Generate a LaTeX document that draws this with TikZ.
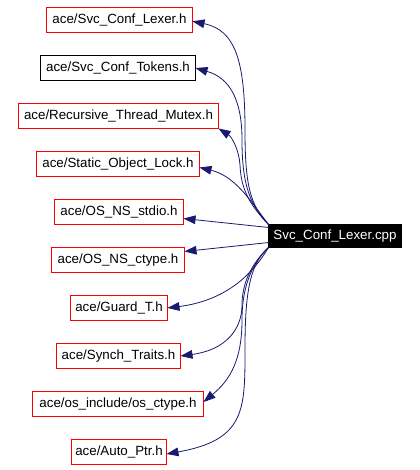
\documentclass[tikz,border=0pt]{standalone}
\usepackage{fontspec}
\setmainfont{Liberation Sans}
\usetikzlibrary{arrows.meta}
\definecolor{edgeblue}{HTML}{191970}
\definecolor{boxred}{HTML}{FF0000}
\begin{document}
\begin{tikzpicture}[x=0.75pt,y=-0.75pt,
  font=\fontsize{10}{12}\selectfont,
  bw/.style={minimum width={#1*0.75pt}},
  filebox/.style={draw=boxred, fill=white, line width=0.75pt, inner sep=0pt, outer sep=0pt, minimum height=18.75pt},
  okbox/.style={filebox, draw=black},
  mainbox/.style={draw=black, fill=black, text=white, line width=0.75pt, inner sep=0pt, outer sep=0pt, minimum height=17.25pt, minimum width=99.75pt},
  dep/.style={draw=edgeblue, line width=0.6pt, -{Triangle[length=9pt,width=6.5pt]}}
]
\useasboundingbox (0,0) rectangle (419,470);
\node[filebox,bw=146] (n1) at (119.5,20) {ace/Svc\_Conf\_Lexer.h};
\node[okbox,bw=155] (n2) at (118,68) {ace/Svc\_Conf\_Tokens.h};
\node[filebox,bw=200] (n3) at (118.5,116) {ace/Recursive\_Thread\_Mutex.h};
\node[filebox,bw=163] (n4) at (118,164) {ace/Static\_Object\_Lock.h};
\node[filebox,bw=129] (n5) at (119,212) {ace/OS\_NS\_stdio.h};
\node[filebox,bw=133] (n6) at (118,260) {ace/OS\_NS\_ctype.h};
\node[filebox,bw=97] (n7) at (119,308) {ace/Guard\_T.h};
\node[filebox,bw=124] (n8) at (118.5,356) {ace/Synch\_Traits.h};
\node[filebox,bw=171] (n9) at (118,404) {ace/os\_include/os\_ctype.h};
\node[filebox,bw=95] (n10) at (119,452) {ace/Auto\_Ptr.h};
\node[mainbox] (m) at (335,236) {Svc\_Conf\_Lexer.cpp};

\draw[dep] (m.north west) .. controls (250,205) and (245,185) .. (245,130)
  .. controls (245,60) and (235,30) .. ([yshift=-1pt]n1.east);
\draw[dep] (m.north west) .. controls (250,205) and (242,185) .. (242,140)
  .. controls (242,100) and (230,78) .. (n2.east);
\draw[dep] (m.north west) .. controls (250,205) and (241,190) .. (240,165)
  .. controls (239,150) and (232,137) .. (n3.south east);
\draw[dep] (m.north west) .. controls (250,200) and (235,176) .. ([yshift=-2.6pt]n4.east);
\draw[dep] ([yshift=6.4pt]m.west) -- ([yshift=-4.9pt]n5.east);
\draw[dep] ([yshift=-4.9pt]m.west) -- ([yshift=6.4pt]n6.east);
\draw[dep] (m.south west) .. controls (255,270) and (230,300) .. (n7.east);
\draw[dep] (m.south west) .. controls (250,265) and (242,285) .. (242,305)
  .. controls (242,330) and (225,350) .. (n8.east);
\draw[dep] (m.south west) .. controls (250,265) and (242,290) .. (242,320)
  .. controls (242,360) and (230,380) .. ([yshift=1.5pt]n9.east);
\draw[dep] (m.south west) .. controls (248,265) and (245,300) .. (245,350)
  .. controls (245,410) and (245,440) .. ([yshift=-1.5pt]n10.east);
\end{tikzpicture}
\end{document}
